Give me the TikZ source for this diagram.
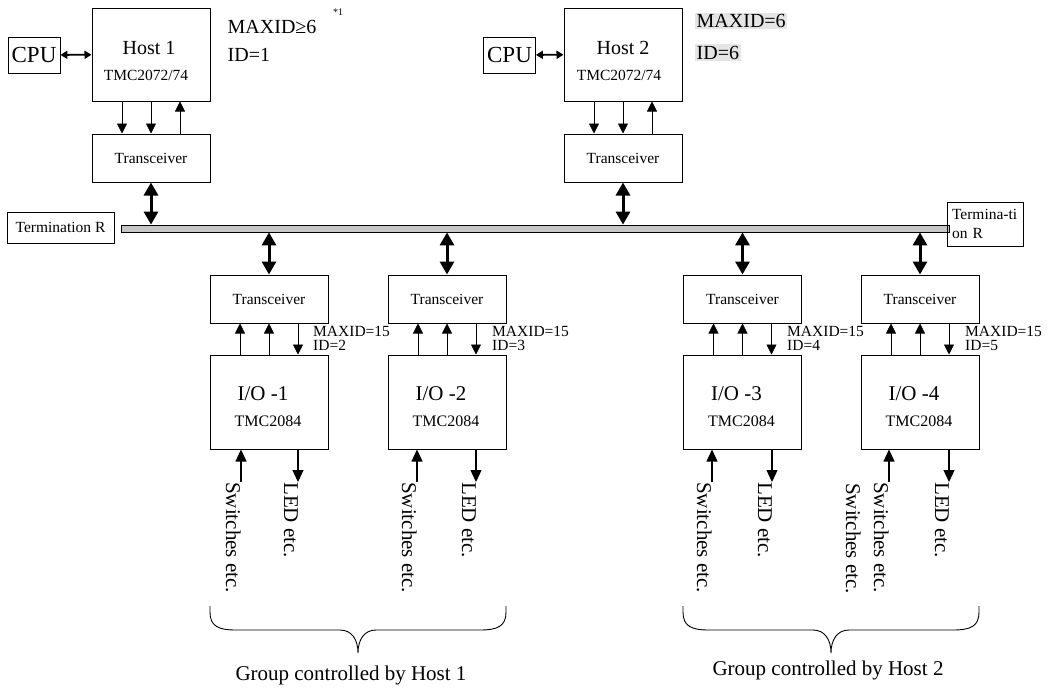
\documentclass[tikz,border=0pt]{standalone}
\usepackage{fontspec}
\setmainfont{Liberation Serif}
\usetikzlibrary{positioning}
\usetikzlibrary{calc}
\usetikzlibrary{arrows.meta}
\newcommand{\pxfont}[1]{\fontsize{#1}{#1}\selectfont}
\tikzset{
hostbox/.style={
  draw=black,
  line width=1pt,
  inner sep=0pt,
  minimum width=118pt,
  minimum height=93pt
  },
trx/.style={
  draw=black,
  line width=1pt,
  inner sep=0pt,
  minimum width=118pt,
  minimum height=48pt,
  font=\pxfont{15.5}
  },
iobox/.style={
  draw=black,
  line width=1pt,
  inner sep=0pt,
  minimum width=118pt,
  minimum height=94pt
  },
cpu/.style={
  draw=black,
  line width=0.8pt,
  inner sep=0pt,
  minimum width=52pt,
  minimum height=36pt,
  font=\pxfont{23}
  },
term/.style={
  draw=black,
  line width=1pt,
  inner sep=0pt,
  font=\pxfont{15.5}
  },
sig/.style={-{Triangle[length=10pt,width=10pt]},line width=0.7pt},
extsig/.style={-{Triangle[length=12pt,width=11pt]},line width=1.2pt},
busarrow/.style={{Triangle[length=13pt,width=14pt]}-{Triangle[length=13pt,width=14pt]},line width=3pt},
cpuarrow/.style={{Triangle[length=7pt,width=8pt]}-{Triangle[length=7pt,width=8pt]},line width=1.8pt},
ext/.style={rotate=-90,anchor=north west,inner sep=0pt,font=\pxfont{21}},
note/.style={anchor=west,inner sep=1.5pt,font=\pxfont{20}},
idnote/.style={anchor=west,inner sep=0pt,font=\pxfont{15.5}}
}

\begin{document}
\begin{tikzpicture}[x=1pt,y=-1pt]
    \useasboundingbox (0,0) rectangle (1047,688);
    % hosts
    \node[hostbox] (host1) at (151,54.5) {};
    \node[font=\pxfont{20}] (host1name) at ([xshift=-2pt,yshift=6.5pt]host1.center) {Host 1};
    \node[font=\pxfont{15.5}] (host1chip) at ([xshift=-5pt,yshift=-20.5pt]host1.center) {TMC2072/74};
    \node[cpu] (cpu1) at (34,55) {CPU};
    \node[trx] (trans1) [below=32pt of host1] {Transceiver};
    \node[hostbox] (host2) at (623,54.5) {};
    \node[font=\pxfont{20}] (host2name) at ([yshift=6.5pt]host2.center) {Host 2};
    \node[font=\pxfont{15.5}] (host2chip) at ([xshift=-4pt,yshift=-20.5pt]host2.center) {TMC2072/74};
    \node[cpu] (cpu2) at (509.5,55) {CPU};
    \node[trx] (trans2) [below=32pt of host2] {Transceiver};
    \node[note] (maxid1) at (226,27) {MAXID≥6};
    \node[note] (id1) at (226,55) {ID=1};
    \node[inner sep=0pt,font=\pxfont{10}] (fn1) at (338,12) {*1};
    \node[note,fill=gray!20] (maxid2) at (695,21) {MAXID=6};
    \node[note,fill=gray!20] (id2) at (695,52.5) {ID=6};
    % bus and terminations
    \node[draw=black,line width=0.8pt,fill=gray!45,inner sep=0pt,minimum width=828pt,minimum height=7pt] (bus) at (535,228.5) {};
    \node[term,minimum width=107pt,minimum height=31pt] (termL) at (60.5,227.5) {Termination R};
    \node[term,minimum width=76pt,minimum height=44pt,text width=66pt,align=left,
      font=\fontsize{15.5}{19}\selectfont] (termR) at (985,224) {Termina-ti\\on R};
    % nodes on the bus
    \node[trx] (trans3) at (269,299) {Transceiver};
    \node[trx] (trans4) at (447,299) {Transceiver};
    \node[trx] (trans5) at (742.5,299) {Transceiver};
    \node[trx] (trans6) at (920,299) {Transceiver};
    \node[iobox] (io1) [below=31pt of trans3] {};
    \node[iobox] (io2) [below=31pt of trans4] {};
    \node[iobox] (io3) [below=31pt of trans5] {};
    \node[iobox] (io4) [below=31pt of trans6] {};
    \node[font=\pxfont{21}] (io1name) at ([xshift=-6pt,yshift=8pt]io1.center) {I/O -1};
    \node[font=\pxfont{21}] (io2name) at ([xshift=-6pt,yshift=8pt]io2.center) {I/O -2};
    \node[font=\pxfont{21}] (io3name) at ([xshift=-6pt,yshift=8pt]io3.center) {I/O -3};
    \node[font=\pxfont{21}] (io4name) at ([xshift=-6pt,yshift=8pt]io4.center) {I/O -4};
    \node[font=\pxfont{16}] (io1chip) at ([xshift=-1pt,yshift=-19pt]io1.center) {TMC2084};
    \node[font=\pxfont{16}] (io2chip) at ([xshift=-1pt,yshift=-19pt]io2.center) {TMC2084};
    \node[font=\pxfont{16}] (io3chip) at ([xshift=-1pt,yshift=-19pt]io3.center) {TMC2084};
    \node[font=\pxfont{16}] (io4chip) at ([xshift=-1pt,yshift=-19pt]io4.center) {TMC2084};
    \node[idnote,align=left,font=\fontsize{15.5}{14}\selectfont] (id3) at (313,338) {MAXID=15\\ID=2};
    \node[idnote,align=left,font=\fontsize{15.5}{14}\selectfont] (id4) at (492,338) {MAXID=15\\ID=3};
    \node[idnote,align=left,font=\fontsize{15.5}{14}\selectfont] (id5) at (787,338) {MAXID=15\\ID=4};
    \node[idnote,align=left,font=\fontsize{15.5}{14}\selectfont] (id6) at (965,338) {MAXID=15\\ID=5};
    % outside world
    \node[ext] (sw1) at (241,482) {Switches etc.};
    \node[ext] (led1) at (298,482) {LED etc.};
    \node[ext] (sw2) at (417,482) {Switches etc.};
    \node[ext] (led2) at (476,482) {LED etc.};
    \node[ext] (sw3) at (712,482) {Switches etc.};
    \node[ext] (led3) at (772,482) {LED etc.};
    \node[ext] (sw4) at (889,482) {Switches etc.};
    \node[ext] (led4) at (949,482) {LED etc.};
    \node[ext] (sw5) at (861,483) {Switches etc.};
    \node[font=\pxfont{21}] (grp1) at (351,675) {Group controlled by Host 1};
    \node[font=\pxfont{21}] (grp2) at (828,670) {Group controlled by Host 2};

    \draw[cpuarrow] (cpu1) -- (host1);
    \draw[cpuarrow] (cpu2) -- (host2);
    \draw[sig] ([xshift=-29pt]host1.south) -- ([xshift=-29pt]trans1.north);
    \draw[sig] (host1.south) -- (trans1.north);
    \draw[sig] ([xshift=29pt]trans1.north) -- ([xshift=29pt]host1.south);
    \draw[sig] ([xshift=-29pt]host2.south) -- ([xshift=-29pt]trans2.north);
    \draw[sig] (host2.south) -- (trans2.north);
    \draw[sig] ([xshift=29pt]trans2.north) -- ([xshift=29pt]host2.south);
    \draw[busarrow] (trans1.south) -- (trans1.south |- bus.north);
    \draw[busarrow] (trans2.south) -- (trans2.south |- bus.north);
    \draw[busarrow] (trans3.north |- bus.south) -- (trans3.north);
    \draw[busarrow] (trans4.north |- bus.south) -- (trans4.north);
    \draw[busarrow] (trans5.north |- bus.south) -- (trans5.north);
    \draw[busarrow] (trans6.north |- bus.south) -- (trans6.north);
    \draw[sig] ([xshift=-29pt]io1.north) -- ([xshift=-29pt]trans3.south);
    \draw[sig] (io1.north) -- (trans3.south);
    \draw[sig] ([xshift=29pt]trans3.south) -- ([xshift=29pt]io1.north);
    \draw[sig] ([xshift=-29pt]io2.north) -- ([xshift=-29pt]trans4.south);
    \draw[sig] (io2.north) -- (trans4.south);
    \draw[sig] ([xshift=29pt]trans4.south) -- ([xshift=29pt]io2.north);
    \draw[sig] ([xshift=-29pt]io3.north) -- ([xshift=-29pt]trans5.south);
    \draw[sig] (io3.north) -- (trans5.south);
    \draw[sig] ([xshift=29pt]trans5.south) -- ([xshift=29pt]io3.north);
    \draw[sig] ([xshift=-29pt]io4.north) -- ([xshift=-29pt]trans6.south);
    \draw[sig] (io4.north) -- (trans6.south);
    \draw[sig] ([xshift=29pt]trans6.south) -- ([xshift=29pt]io4.north);
    \draw[extsig] (sw1.north west) -- (sw1.north west |- io1.south);
    \draw[extsig] (led1.north west |- io1.south) -- (led1.north west);
    \draw[extsig] (sw2.north west) -- (sw2.north west |- io2.south);
    \draw[extsig] (led2.north west |- io2.south) -- (led2.north west);
    \draw[extsig] (sw3.north west) -- (sw3.north west |- io3.south);
    \draw[extsig] (led3.north west |- io3.south) -- (led3.north west);
    \draw[extsig] (sw4.north west) -- (sw4.north west |- io4.south);
    \draw[extsig] (led4.north west |- io4.south) -- (led4.north west);
    % braces
    \draw[line width=0.9pt] (210,606) -- (210,612) .. controls (210,626) and (218,630) .. (236,630) -- (340,630)
      .. controls (352,630) and (358,640) .. (358,653) .. controls (358,640) and (364,630) .. (376,630)
      -- (480,630) .. controls (498,630) and (506,626) .. (506,612) -- (506,606);
    \draw[line width=0.9pt] (683,606) -- (683,612) .. controls (683,626) and (691,630) .. (709,630) -- (813,630)
      .. controls (825,630) and (831,640) .. (831,653) .. controls (831,640) and (837,630) .. (849,630)
      -- (953,630) .. controls (971,630) and (979,626) .. (979,612) -- (979,606);
\end{tikzpicture}
\end{document}
